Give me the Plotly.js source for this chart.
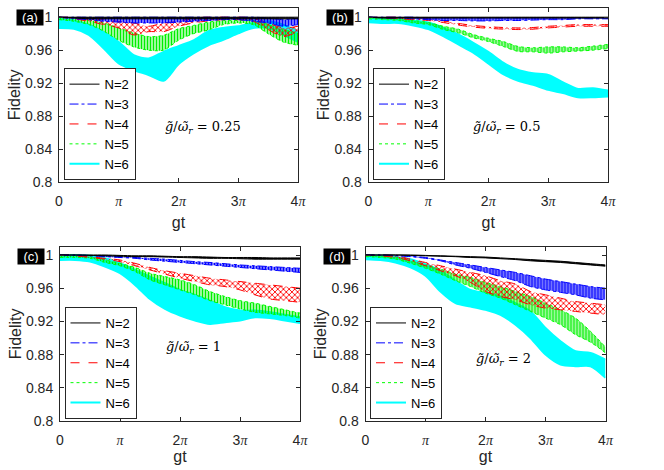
<!DOCTYPE html>
<html>
<head>
<meta charset="utf-8">
<script src="https://cdn.plot.ly/plotly-3.0.1.min.js"></script>
<style>
  html, body { margin: 0; padding: 0; background: #fff; }
  #chart { width: 664px; height: 470px; }
</style>
</head>
<body>
<div id="chart"></div>
<script>
// gt in units of pi
const gt = [0, 0.25, 0.5, 0.75, 1, 1.25, 1.5, 1.75, 2, 2.25, 2.5, 2.75, 3, 3.25, 3.5, 3.75, 4];
const seriesNames = ["N=2", "N=3", "N=4", "N=5", "N=6"];
const ratioTexts = ["0.25", "0.5", "1", "2"];
const panelTags = ["(a)", "(b)", "(c)", "(d)"];
const yTickVals = [0.8, 0.84, 0.88, 0.92, 0.96, 1];
const yTickText = ["0.8", "0.84", "0.88", "0.92", "0.96", "1"];
const xTickVals = [0, 1, 2, 3, 4];

// upper / lower envelope of the fast oscillation
// panel (a)  g/w = 0.25
const a2Hi = [1, 1, 1, 1, 1, 1, 1, 1, 1, 1, 1, 1, 1, 1, 1, 1, 1];
const a2Lo = [1, 0.999, 0.998, 0.998, 0.998, 0.998, 0.998, 0.998, 0.998, 0.998, 0.998, 0.998, 0.998, 0.998, 0.998, 0.998, 0.998];
const a3Hi = [1, 1, 1, 1, 1, 1, 1, 1, 1, 1, 1, 1, 1, 1, 0.999, 0.997, 0.999];
const a3Lo = [1, 0.998, 0.997, 0.995, 0.994, 0.993, 0.993, 0.993, 0.994, 0.995, 0.996, 0.997, 0.997, 0.995, 0.993, 0.989, 0.991];
const a4Hi = [1, 1, 0.999, 0.997, 0.995, 0.993, 0.989, 0.993, 0.995, 0.999, 1, 1, 1, 0.999, 0.993, 0.987, 0.989];
const a4Lo = [1, 0.998, 0.995, 0.991, 0.987, 0.9785, 0.9825, 0.9825, 0.989, 0.993, 0.9955, 0.997, 0.997, 0.995, 0.985, 0.9765, 0.9825];
const a5Hi = [1, 0.999, 0.997, 0.993, 0.987, 0.981, 0.9765, 0.978, 0.986, 0.99, 0.994, 0.996, 0.996, 0.996, 0.991, 0.985, 0.981];
const a5Lo = [0.997, 0.995, 0.991, 0.983, 0.972, 0.964, 0.96, 0.96, 0.972, 0.98, 0.9845, 0.991, 0.993, 0.991, 0.98, 0.97, 0.966];
const a6Hi = [1, 0.996, 0.991, 0.982, 0.97, 0.954, 0.95, 0.958, 0.965, 0.972, 0.983, 0.987, 0.989, 0.993, 0.995, 0.991, 0.983];
const a6Lo = [0.987, 0.986, 0.9785, 0.962, 0.944, 0.936, 0.93, 0.923, 0.943, 0.956, 0.966, 0.9725, 0.9805, 0.987, 0.987, 0.9785, 0.97];

// panel (b)  g/w = 0.5
const b2Hi = [1, 1, 1, 1, 1, 1, 1, 1, 1, 1, 1, 1, 1, 1, 1, 1, 1];
const b2Lo = [1, 0.999, 0.999, 0.999, 0.999, 0.999, 0.999, 0.999, 0.999, 0.999, 0.999, 0.999, 0.999, 0.999, 0.999, 0.999, 0.999];
const b3Hi = [1, 1, 1, 1, 0.999, 0.999, 0.999, 0.999, 0.999, 0.999, 0.999, 0.999, 0.999, 0.999, 0.999, 0.999, 0.999];
const b3Lo = [1, 0.999, 0.999, 0.998, 0.997, 0.996, 0.996, 0.9955, 0.9955, 0.996, 0.996, 0.9965, 0.997, 0.997, 0.998, 0.998, 0.998];
const b4Hi = [1, 1, 1, 0.999, 0.998, 0.9955, 0.9925, 0.99, 0.9885, 0.9875, 0.987, 0.9875, 0.989, 0.99, 0.991, 0.991, 0.991];
const b4Lo = [1, 0.999, 0.998, 0.997, 0.996, 0.9935, 0.9905, 0.988, 0.9865, 0.9855, 0.985, 0.9855, 0.987, 0.988, 0.989, 0.989, 0.989];
const b5Hi = [1, 0.999, 0.998, 0.996, 0.9935, 0.989, 0.9855, 0.979, 0.9745, 0.9705, 0.9645, 0.963, 0.964, 0.964, 0.963, 0.965, 0.967];
const b5Lo = [0.998, 0.997, 0.996, 0.993, 0.991, 0.985, 0.981, 0.975, 0.9705, 0.9645, 0.9585, 0.958, 0.9565, 0.958, 0.959, 0.96, 0.962];
const b6Hi = [1, 0.998, 0.997, 0.996, 0.9935, 0.987, 0.979, 0.969, 0.958, 0.945, 0.936, 0.932, 0.93, 0.921, 0.913, 0.914, 0.911];
const b6Lo = [0.994, 0.993, 0.993, 0.99, 0.9855, 0.977, 0.967, 0.957, 0.944, 0.931, 0.923, 0.918, 0.912, 0.908, 0.903, 0.903, 0.904];

// panel (c)  g/w = 1
const c2Hi = [1, 1, 1, 1, 0.9995, 0.999, 0.999, 0.9985, 0.998, 0.998, 0.9975, 0.997, 0.997, 0.997, 0.9965, 0.9965, 0.9965];
const c2Lo = [1, 1, 0.9995, 0.999, 0.9985, 0.998, 0.998, 0.9975, 0.997, 0.9965, 0.996, 0.996, 0.9955, 0.995, 0.995, 0.995, 0.995];
const c3Hi = [1, 1, 0.9995, 0.999, 0.998, 0.997, 0.996, 0.995, 0.9935, 0.992, 0.991, 0.9895, 0.988, 0.987, 0.986, 0.985, 0.984];
const c3Lo = [1, 0.9995, 0.999, 0.998, 0.997, 0.996, 0.994, 0.9925, 0.991, 0.9895, 0.988, 0.9865, 0.985, 0.9835, 0.982, 0.9805, 0.979];
const c4Hi = [1, 1, 0.998, 0.996, 0.994, 0.99, 0.985, 0.981, 0.978, 0.975, 0.972, 0.97, 0.968, 0.966, 0.964, 0.962, 0.96];
const c4Lo = [1, 0.999, 0.997, 0.995, 0.992, 0.987, 0.982, 0.977, 0.972, 0.968, 0.964, 0.962, 0.958, 0.952, 0.947, 0.945, 0.943];
const c5Hi = [1, 0.9995, 0.998, 0.994, 0.99, 0.985, 0.978, 0.974, 0.97, 0.964, 0.956, 0.95, 0.945, 0.942, 0.938, 0.934, 0.93];
const c5Lo = [0.997, 0.997, 0.996, 0.991, 0.987, 0.98, 0.97, 0.964, 0.958, 0.952, 0.945, 0.94, 0.935, 0.931, 0.929, 0.927, 0.924];
const c6Hi = [1, 1, 0.999, 0.996, 0.99, 0.982, 0.974, 0.966, 0.958, 0.952, 0.945, 0.937, 0.933, 0.933, 0.931, 0.928, 0.925];
const c6Lo = [0.994, 0.994, 0.992, 0.986, 0.978, 0.964, 0.947, 0.935, 0.927, 0.921, 0.917, 0.919, 0.921, 0.925, 0.924, 0.921, 0.918];

// panel (d)  g/w = 2
const d2Hi = [1, 1, 1, 1, 0.9995, 0.999, 0.9985, 0.998, 0.9975, 0.9965, 0.9955, 0.9945, 0.9935, 0.9925, 0.991, 0.9895, 0.988];
const d2Lo = [1, 1, 1, 0.9995, 0.999, 0.9985, 0.998, 0.997, 0.9965, 0.9955, 0.9945, 0.993, 0.992, 0.991, 0.9895, 0.988, 0.9865];
const d3Hi = [1, 1, 0.9995, 0.9985, 0.997, 0.994, 0.991, 0.988, 0.985, 0.982, 0.979, 0.975, 0.971, 0.968, 0.965, 0.962, 0.96];
const d3Lo = [1, 1, 0.999, 0.998, 0.996, 0.993, 0.988, 0.984, 0.979, 0.974, 0.969, 0.962, 0.958, 0.955, 0.952, 0.948, 0.946];
const d4Hi = [1, 1, 0.999, 0.995, 0.991, 0.987, 0.983, 0.979, 0.975, 0.969, 0.965, 0.956, 0.952, 0.948, 0.944, 0.942, 0.94];
const d4Lo = [1, 0.999, 0.997, 0.993, 0.987, 0.981, 0.975, 0.967, 0.956, 0.95, 0.946, 0.94, 0.936, 0.934, 0.932, 0.93, 0.928];
const d5Hi = [1, 0.999, 0.9975, 0.993, 0.988, 0.983, 0.977, 0.973, 0.967, 0.962, 0.956, 0.95, 0.942, 0.934, 0.924, 0.908, 0.889];
const d5Lo = [0.998, 0.997, 0.995, 0.99, 0.984, 0.977, 0.969, 0.962, 0.954, 0.948, 0.94, 0.932, 0.924, 0.916, 0.904, 0.895, 0.882];
const d6Hi = [1, 0.999, 0.9975, 0.995, 0.989, 0.981, 0.969, 0.958, 0.954, 0.95, 0.942, 0.932, 0.912, 0.896, 0.884, 0.882, 0.874];
const d6Lo = [0.995, 0.994, 0.991, 0.985, 0.975, 0.956, 0.942, 0.938, 0.934, 0.928, 0.916, 0.9, 0.88, 0.868, 0.866, 0.866, 0.852];

const hiSets = [
  [a2Hi, a3Hi, a4Hi, a5Hi, a6Hi],
  [b2Hi, b3Hi, b4Hi, b5Hi, b6Hi],
  [c2Hi, c3Hi, c4Hi, c5Hi, c6Hi],
  [d2Hi, d3Hi, d4Hi, d5Hi, d6Hi]
];
const loSets = [
  [a2Lo, a3Lo, a4Lo, a5Lo, a6Lo],
  [b2Lo, b3Lo, b4Lo, b5Lo, b6Lo],
  [c2Lo, c3Lo, c4Lo, c5Lo, c6Lo],
  [d2Lo, d3Lo, d4Lo, d5Lo, d6Lo]
];

const colors = ["#000000", "#0000ff", "#ff0000", "#00ff00", "#00ffff"];
const dashes = ["solid", "dashdot", "dash", "dot", "solid"];
const widths = [1, 1, 1, 1, 2];
const fills = [
  { fillcolor: "#000000" },
  { fillcolor: "rgba(0,0,0,0)", fillpattern: { shape: "|", fgcolor: "#0000ff", bgcolor: "rgba(0,0,255,0.25)", size: 3, solidity: 0.6 } },
  { fillcolor: "rgba(0,0,0,0)", fillpattern: { shape: "x", fgcolor: "#ff0000", bgcolor: "rgba(255,255,255,0)", size: 4, solidity: 0.4 } },
  { fillcolor: "rgba(0,0,0,0)", fillpattern: { shape: "|", fgcolor: "#00ee00", bgcolor: "rgba(0,255,0,0.2)", size: 3, solidity: 0.5 } },
  { fillcolor: "#00ffff" }
];

// subplot boxes in pixels [left, right, top, bottom]
const boxes = [
  [59, 298, 7.7, 182.2],
  [368.5, 608, 7.7, 182.2],
  [60, 300, 246.7, 421],
  [365.5, 605.5, 246.7, 421]
];
const yTop = [1.0115, 1.0115, 1.01, 1.01];
const gtStandoff = [8, 8, 0, 0];
const ratioPos = [[2.41, 0.8657], [2.31, 0.8668], [2.22, 0.888], [2.295, 0.8743]];
const W = 664, H = 470;
const axisGray = "#262626";
const piSpan = '<span style="font-family:\'Liberation Serif\'"><i>π</i></span>';
const xTickText = ["0", piSpan, "2" + piSpan, "3" + piSpan, "4" + piSpan];

const data = [];
const layout = {
  width: W, height: H,
  margin: { l: 0, r: 0, t: 0, b: 0 },
  paper_bgcolor: "#fff", plot_bgcolor: "#fff",
  font: { family: "Liberation Sans, Arial, sans-serif", color: axisGray, size: 14 },
  showlegend: true,
  annotations: []
};

boxes.forEach((b, p) => {
  const sfx = p === 0 ? "" : String(p + 1);
  const xa = "x" + sfx, ya = "y" + sfx;
  const legendId = "legend" + sfx;

  // cyan first so the thinner curves sit on top
  for (let i = 4; i >= 0; i--) {
    const line = { color: colors[i], width: widths[i], dash: dashes[i], shape: "spline", smoothing: 0.8 };
    data.push({
      x: gt, y: loSets[p][i], xaxis: xa, yaxis: ya, type: "scatter", mode: "lines",
      name: seriesNames[i], legend: legendId, showlegend: true, line: line, hoverinfo: "skip"
    });
    data.push(Object.assign({
      x: gt, y: hiSets[p][i], xaxis: xa, yaxis: ya, type: "scatter", mode: "lines",
      name: seriesNames[i], legend: legendId, showlegend: false, line: line,
      fill: "tonexty", hoverinfo: "skip"
    }, fills[i]));
  }

  layout["xaxis" + sfx] = {
    domain: [b[0] / W, b[1] / W], anchor: ya, range: [0, 4],
    tickvals: xTickVals, ticktext: xTickText,
    ticks: "inside", ticklen: 4, tickcolor: axisGray, ticklabelstandoff: 6,
    showline: true, linecolor: axisGray, linewidth: 1, mirror: "ticks",
    showgrid: false, zeroline: false,
    tickfont: { size: 14, color: axisGray },
    title: { text: "gt", font: { size: 16, color: axisGray }, standoff: gtStandoff[p] }
  };
  layout["yaxis" + sfx] = {
    domain: [1 - b[3] / H, 1 - b[2] / H], anchor: xa, range: [0.8, yTop[p]],
    tickvals: yTickVals, ticktext: yTickText,
    ticks: "inside", ticklen: 4, tickcolor: axisGray, ticklabelstandoff: 3,
    showline: true, linecolor: axisGray, linewidth: 1, mirror: "ticks",
    showgrid: false, zeroline: false,
    tickfont: { size: 14, color: axisGray },
    title: { text: "Fidelity", font: { size: 16, color: axisGray }, standoff: 0 }
  };
  layout[legendId] = {
    x: (b[0] + 4.5) / W, y: 1 - (b[3] - 2) / H, xanchor: "left", yanchor: "bottom",
    bgcolor: "#fff", bordercolor: axisGray, borderwidth: 1,
    font: { size: 13, color: "#000" }, traceorder: "reversed", itemwidth: 30
  };

  // ratio label
  layout.annotations.push({
    xref: xa, yref: ya, x: ratioPos[p][0], y: ratioPos[p][1], showarrow: false,
    text: "<i>g̃</i>/<i>ω̃</i><sub><i>r</i></sub> = " + ratioTexts[p],
    font: { family: "DejaVu Serif, serif", size: 13, color: "#000" }
  });
  // panel tag
  layout.annotations.push({
    xref: "paper", yref: "paper", x: (b[0] - 29) / W, y: 1 - (b[2] + 10) / H,
    xanchor: "center", yanchor: "middle", showarrow: false,
    text: panelTags[p], bgcolor: "#000", width: 24, height: 13, borderpad: 1,
    font: { size: 13, color: "#fff" }
  });
});

Plotly.newPlot("chart", data, layout, { staticPlot: true, displayModeBar: false });
</script>
</body>
</html>
